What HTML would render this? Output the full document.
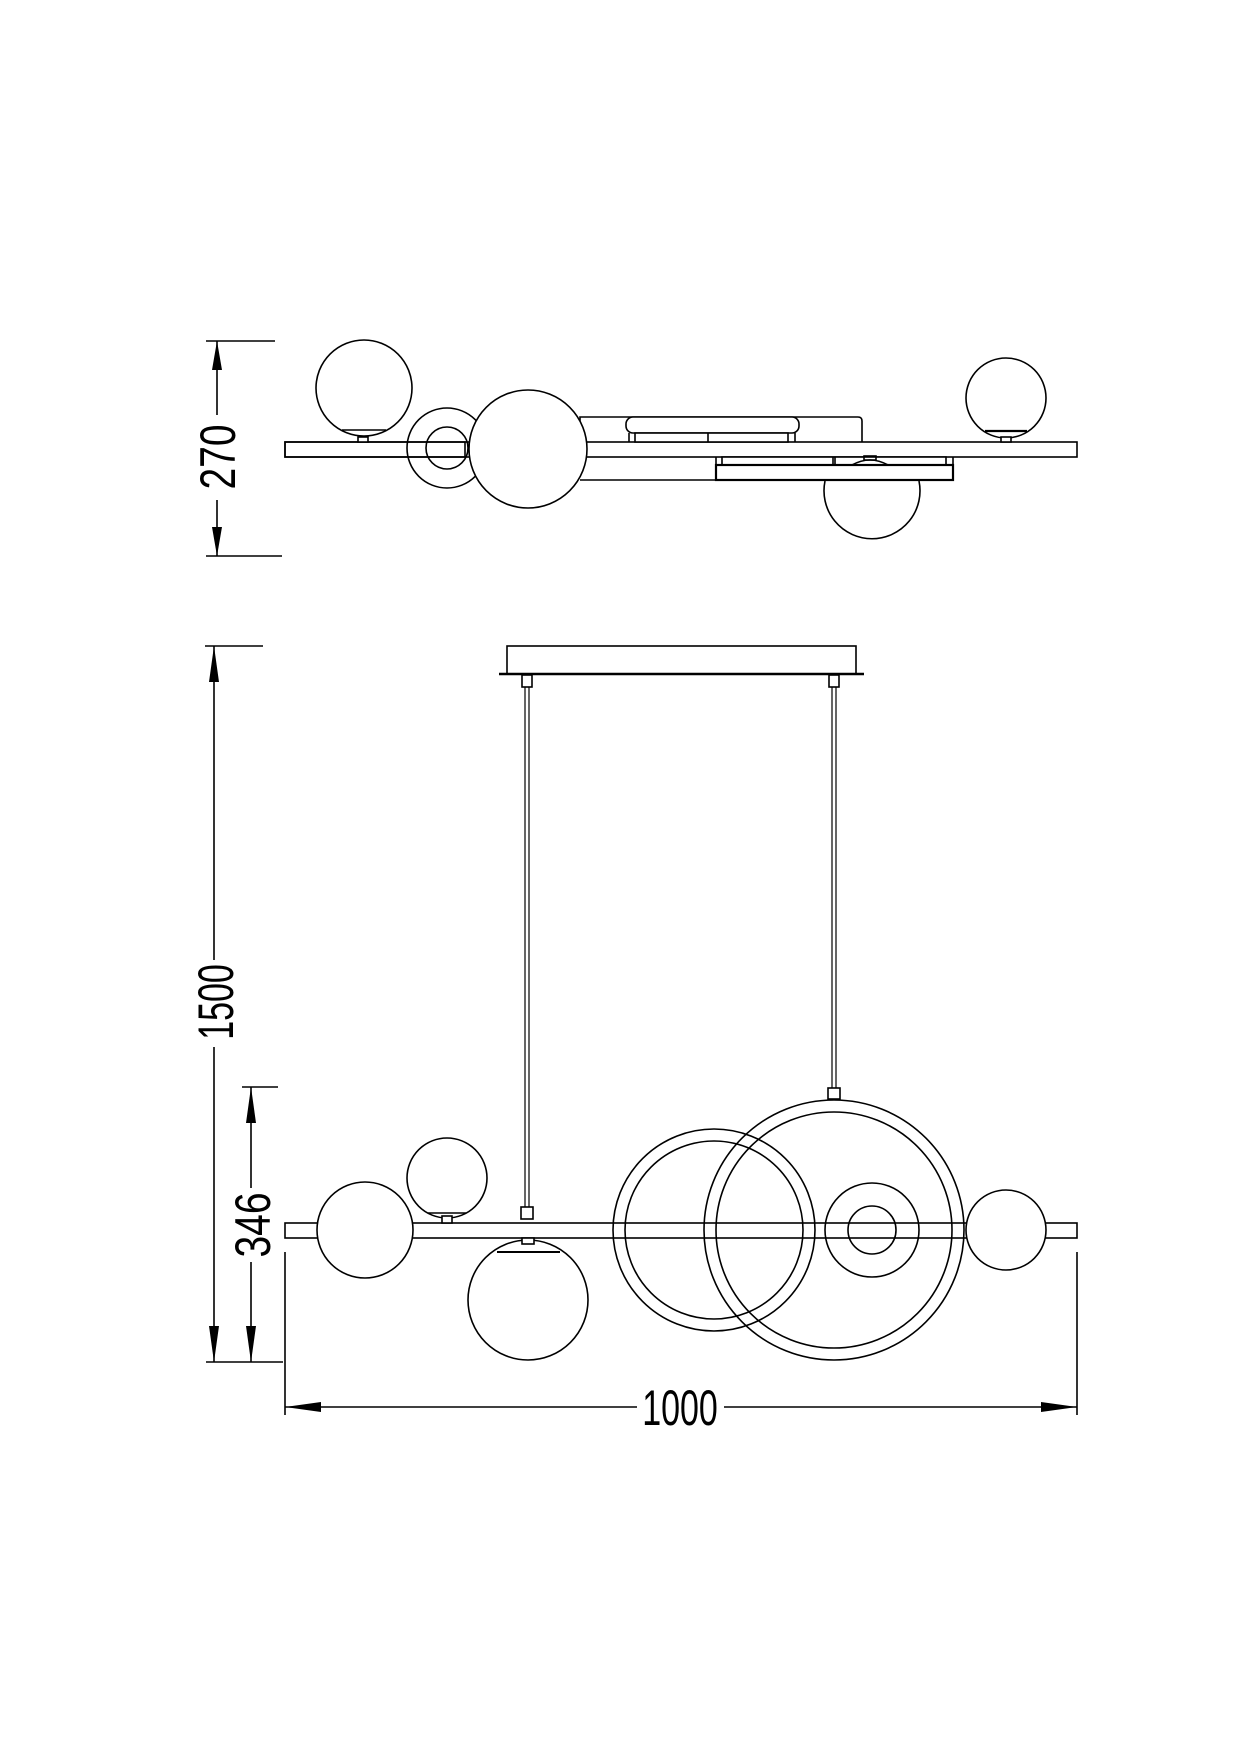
<!DOCTYPE html>
<html><head><meta charset="utf-8"><style>
html,body{margin:0;padding:0;background:#fff;}
svg{display:block;}
text{font-family:"Liberation Sans",sans-serif;font-size:50px;fill:#000;}
</style></head><body>
<svg width="1240" height="1755" viewBox="0 0 1240 1755" xmlns="http://www.w3.org/2000/svg">
<g fill="none" stroke="#000" stroke-width="1.6">
<!-- ===== TOP VIEW ===== -->
<!-- 270 dimension -->
<line x1="206" y1="341" x2="275" y2="341"/>
<line x1="206" y1="556" x2="282" y2="556"/>
<line x1="217" y1="341" x2="217" y2="415"/>
<line x1="217" y1="500" x2="217" y2="556"/>
<!-- bar -->
<rect x="285" y="442" width="792" height="15" fill="#fff"/>
<!-- canopy box above bar -->
<path d="M580 442 V417 H858 Q862 417 862 421 V442"/>
<rect x="626" y="417" width="173" height="16" rx="7" fill="#fff"/>
<rect x="635" y="433" width="153" height="9" fill="#fff"/>
<line x1="708" y1="433" x2="708" y2="442"/>
<line x1="629" y1="433" x2="629" y2="442"/>
<line x1="795" y1="433" x2="795" y2="442"/>
<!-- below bar -->
<path d="M580 480 H716"/>
<rect x="722" y="457" width="224" height="8" fill="#fff"/>
<line x1="716" y1="457" x2="716" y2="465"/>
<line x1="953" y1="457" x2="953" y2="465"/>
<line x1="833" y1="457" x2="833" y2="465"/>
<line x1="835" y1="457" x2="835" y2="465"/>
<path d="M852 465 Q870 455 888 465"/>
<rect x="864" y="456" width="12" height="4"/>
<!-- bottom globe (behind plate) -->
<path d="M825 481 A48 48 0 1 0 919 481"/>
<rect x="716" y="465" width="237" height="15" fill="#fff" stroke-width="2.2"/>
<!-- left ring -->
<circle cx="447" cy="448" r="40"/>
<circle cx="447" cy="448" r="21"/>
<rect x="285" y="442" width="180" height="15" fill="none"/>
<!-- left globe -->
<circle cx="364" cy="388" r="48" fill="#fff"/>
<line x1="342" y1="430" x2="386" y2="430"/>
<rect x="358" y="437" width="10" height="5" fill="#fff"/>
<!-- right globe -->
<circle cx="1006" cy="398" r="40" fill="#fff"/>
<line x1="985" y1="431" x2="1027" y2="431" stroke-width="2.2"/>
<rect x="1001" y="437" width="10" height="5" fill="#fff"/>
<!-- big globe -->
<circle cx="528" cy="449" r="59" fill="#fff"/>

<!-- ===== FRONT VIEW ===== -->
<!-- 1500 dimension -->
<line x1="205" y1="646" x2="263" y2="646"/>
<line x1="206" y1="1362" x2="283" y2="1362"/>
<line x1="214" y1="646" x2="214" y2="960"/>
<line x1="214" y1="1047" x2="214" y2="1362"/>
<!-- 346 dimension -->
<line x1="242" y1="1087" x2="278" y2="1087"/>
<line x1="251" y1="1087" x2="251" y2="1188"/>
<line x1="251" y1="1262" x2="251" y2="1362"/>
<!-- 1000 dimension -->
<line x1="285" y1="1252" x2="285" y2="1415"/>
<line x1="1077" y1="1252" x2="1077" y2="1415"/>
<line x1="285" y1="1407" x2="637" y2="1407"/>
<line x1="724" y1="1407" x2="1077" y2="1407"/>
<!-- canopy -->
<rect x="507" y="646" width="349" height="28"/>
<line x1="499" y1="674" x2="864" y2="674" stroke-width="2.4"/>
<rect x="522" y="675" width="10" height="12"/>
<rect x="829" y="675" width="10" height="12"/>
<!-- rods -->
<line x1="525" y1="687" x2="525" y2="1207" stroke-width="1.2"/>
<line x1="529" y1="687" x2="529" y2="1207" stroke-width="1.2"/>
<line x1="832" y1="687" x2="832" y2="1088" stroke-width="1.2"/>
<line x1="836" y1="687" x2="836" y2="1088" stroke-width="1.2"/>
<rect x="521" y="1207" width="12" height="12"/>
<rect x="828" y="1088" width="12" height="11"/>
<!-- large ring -->
<circle cx="834" cy="1230" r="130"/>
<circle cx="834" cy="1230" r="118"/>
<!-- medium ring -->
<circle cx="714" cy="1230" r="101"/>
<circle cx="714" cy="1230" r="89"/>
<!-- small ring -->
<circle cx="872" cy="1230" r="47"/>
<circle cx="872" cy="1230" r="24"/>
<!-- bar -->
<rect x="285" y="1223" width="792" height="15"/>
<!-- left globe -->
<circle cx="365" cy="1230" r="48" fill="#fff"/>
<!-- small upper globe -->
<circle cx="447" cy="1178" r="40" fill="#fff"/>
<line x1="428" y1="1213" x2="466" y2="1213"/>
<rect x="442" y="1216" width="10" height="7" fill="#fff"/>
<!-- right globe -->
<circle cx="1006" cy="1230" r="40" fill="#fff"/>
<!-- pendant globe -->
<circle cx="528" cy="1300" r="60" fill="#fff"/>
<line x1="497" y1="1252" x2="560" y2="1252" stroke-width="2"/>
<rect x="522" y="1238" width="12" height="6" fill="#fff"/>
</g>
<!-- arrowheads -->
<g fill="#000">
<polygon points="217,341 212,370 222,370"/>
<polygon points="217,556 212,527 222,527"/>
<polygon points="214,646 209,682 219,682"/>
<polygon points="214,1362 209,1326 219,1326"/>
<polygon points="251,1087 246,1123 256,1123"/>
<polygon points="251,1362 246,1326 256,1326"/>
<polygon points="285,1407 321,1402 321,1412"/>
<polygon points="1077,1407 1041,1402 1041,1412"/>
</g>
<!-- labels -->
<text transform="translate(235,457) rotate(-90) scale(0.78,1)" text-anchor="middle">270</text>
<text transform="translate(233,1002) rotate(-90) scale(0.68,1)" text-anchor="middle">1500</text>
<text transform="translate(270,1225) rotate(-90) scale(0.78,1)" text-anchor="middle">346</text>
<text transform="translate(680,1425) scale(0.68,1)" text-anchor="middle">1000</text>
</svg>
</body></html>
